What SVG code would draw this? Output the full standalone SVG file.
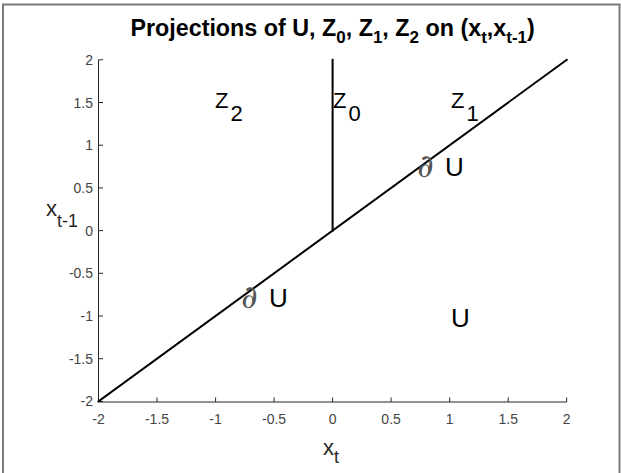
<svg xmlns="http://www.w3.org/2000/svg" width="621" height="473" viewBox="0 0 621 473">
<style>
.frame{fill:none;stroke:#7a7a7a;stroke-width:2}
.axis{stroke:#262626;stroke-width:1;fill:none}
.tick{stroke:#262626;stroke-width:1}
.tl{font-family:"Liberation Sans",Arial,sans-serif;font-size:14px;fill:#444}
.tx{text-anchor:middle}
.ty{text-anchor:end}
.curve{stroke:#000;stroke-width:2;fill:none;stroke-linecap:square}
.lab{font-family:"Liberation Sans",Arial,sans-serif;fill:#000}
.z{font-size:22px}
.sub{font-size:22px}
.u{font-size:26px}
.d{font-family:"DejaVu Serif","Liberation Serif",serif;font-style:italic;font-size:32px;fill:#555}
.title{font-family:"Liberation Sans",Arial,sans-serif;font-weight:bold;font-size:23.3px;fill:#000;text-anchor:middle}
.axl{font-family:"Liberation Sans",Arial,sans-serif;font-size:22px;fill:#262626}
</style>
<rect x="0" y="0" width="621" height="473" fill="#fff"/>
<path class="frame" d="M3,473 V4.5 H619.5 V473"/>
<g id="title">
<text class="title" x="332.6" y="36">Projections of U, Z<tspan font-size="17" dy="7">0</tspan><tspan dy="-7">, Z</tspan><tspan font-size="17" dy="7">1</tspan><tspan dy="-7">, Z</tspan><tspan font-size="17" dy="7">2</tspan><tspan dy="-7"> on (x</tspan><tspan font-size="17" dy="7">t</tspan><tspan dy="-7">,x</tspan><tspan font-size="17" dy="7">t-1</tspan><tspan dy="-7">)</tspan></text>
</g>
<g id="axes">
<path class="axis" d="M98.5,59.8 V402 H566.7"/>
<path class="tick" d="M98.5,402 V397.5 M157,402 V397.5 M215.6,402 V397.5 M274.1,402 V397.5 M332.6,402 V397.5 M391.1,402 V397.5 M449.7,402 V397.5 M508.2,402 V397.5 M566.7,402 V397.5"/>
<path class="tick" d="M98.5,59.8 H103 M98.5,102.5 H103 M98.5,145.2 H103 M98.5,187.9 H103 M98.5,230.6 H103 M98.5,273.3 H103 M98.5,316 H103 M98.5,358.7 H103 M98.5,401.4 H103"/>
<g class="tl tx">
<text x="98.5" y="424">-2</text><text x="157" y="424">-1.5</text><text x="215.6" y="424">-1</text><text x="274.1" y="424">-0.5</text><text x="332.6" y="424">0</text><text x="391.1" y="424">0.5</text><text x="449.7" y="424">1</text><text x="508.2" y="424">1.5</text><text x="566.7" y="424">2</text>
</g>
<g class="tl ty">
<text x="93" y="64.8">2</text><text x="93" y="107.5">1.5</text><text x="93" y="150.2">1</text><text x="93" y="192.9">0.5</text><text x="93" y="235.6">0</text><text x="93" y="278.3">-0.5</text><text x="93" y="321">-1</text><text x="93" y="363.7">-1.5</text><text x="93" y="406.4">-2</text>
</g>
<text id="xlabel" class="axl" x="323" y="455">x<tspan font-size="18" dy="8">t</tspan></text>
<text id="ylabel" class="axl" x="46" y="216">x<tspan font-size="18" dy="11">t-1</tspan></text>
</g>
<g id="connectors">
<line class="curve" x1="98.5" y1="401.4" x2="566.7" y2="59.8"/>
<line class="curve" x1="332.6" y1="230.6" x2="332.6" y2="59.8"/>
</g>
<g id="Z2"><text class="lab z" x="215" y="108">Z<tspan class="sub" dx="2" dy="13">2</tspan></text></g>
<g id="Z0"><text class="lab z" x="333" y="108">Z<tspan class="sub" dx="2" dy="13">0</tspan></text></g>
<g id="Z1"><text class="lab z" x="451" y="108">Z<tspan class="sub" dx="2" dy="13">1</tspan></text></g>
<g id="dU1"><text class="d" x="417" y="177">∂</text><text class="lab u" x="445" y="176">U</text></g>
<g id="dU2"><text class="d" x="241" y="308">∂</text><text class="lab u" x="269" y="307">U</text></g>
<g id="U"><text class="lab u" x="451" y="327">U</text></g>
</svg>
